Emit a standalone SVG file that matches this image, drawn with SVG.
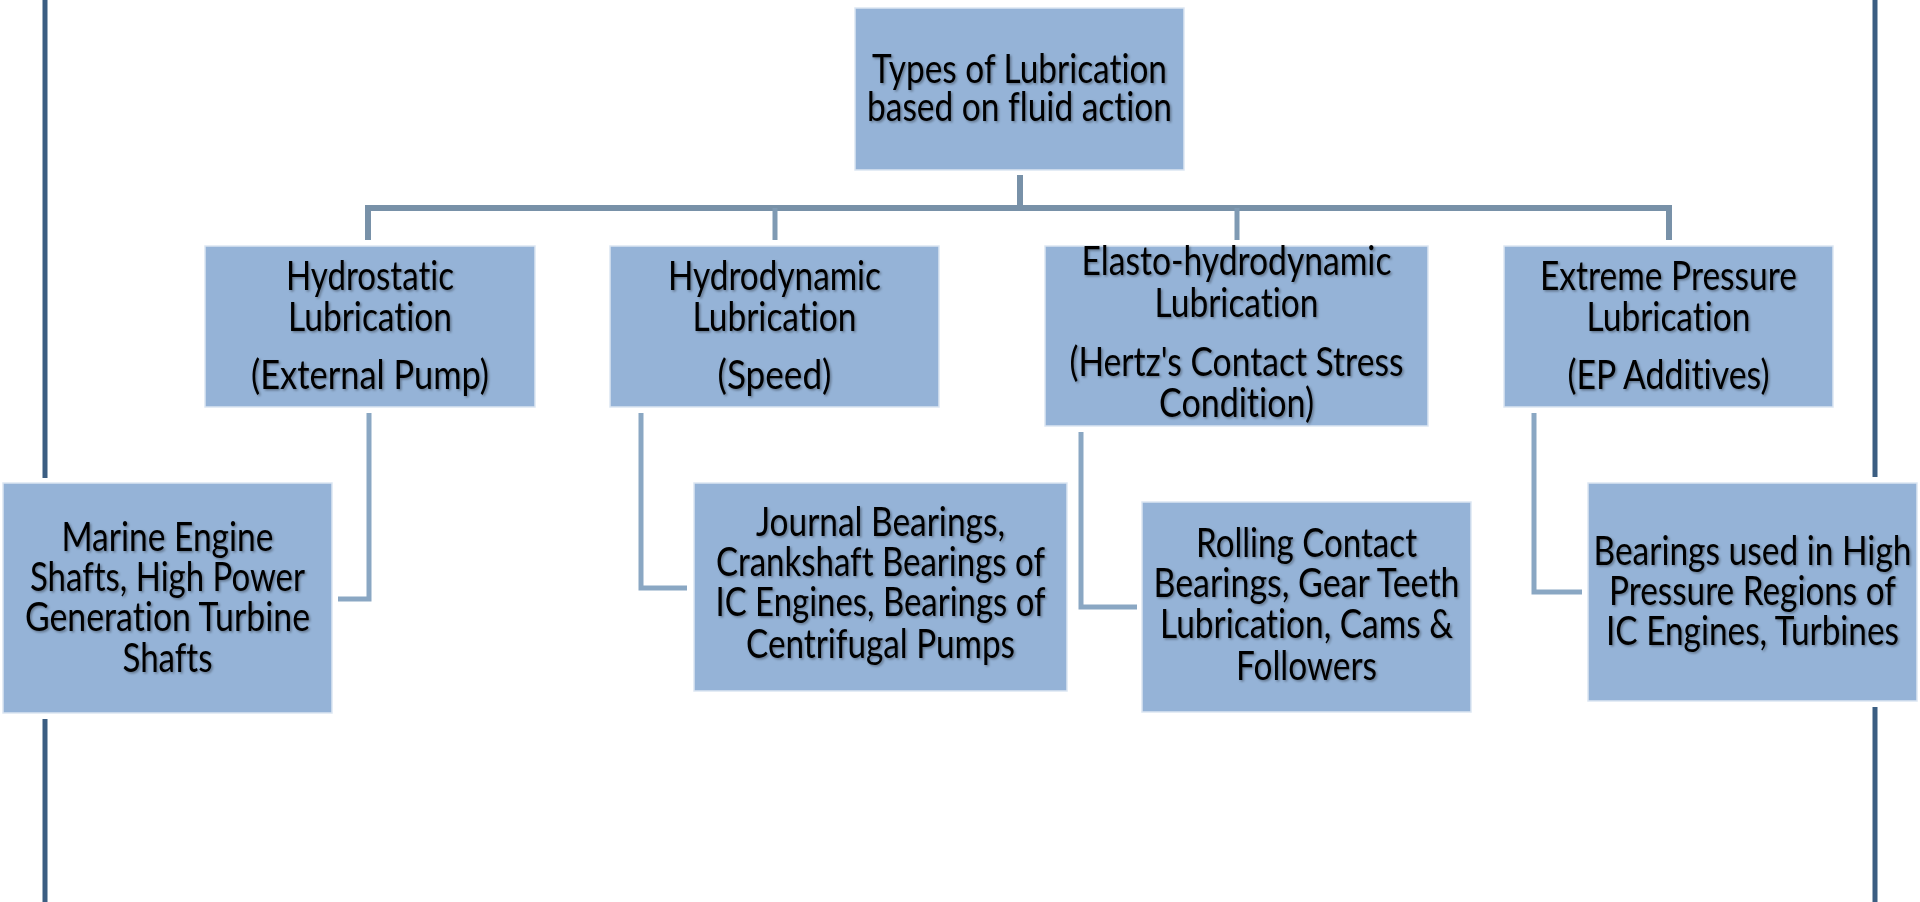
<svg xmlns="http://www.w3.org/2000/svg" width="1920" height="902" viewBox="0 0 1920 902">
  <defs>
    <filter id="txtShadow" x="-5%" y="-20%" width="110%" height="150%">
      <feDropShadow dx="1.5" dy="1.5" stdDeviation="1" flood-color="#000" flood-opacity="0.35"/>
    </filter>
  </defs>
  <style>
    .box { fill: #95b3d7; stroke: #dce6f2; stroke-width: 1.5; }
    .lbl { font-family: Lato, "Liberation Sans", sans-serif; font-size: 40px; fill: #000; text-anchor: middle; font-variant-ligatures: none; filter: url(#txtShadow); }
    .trunk { fill: none; stroke: #7891a8; stroke-width: 6; stroke-linejoin: miter; }
    .drop { fill: none; stroke: #7f9ab3; stroke-width: 5; }
    .elbow { fill: none; stroke: #8aa7c3; stroke-width: 5; stroke-linejoin: miter; }
    .edge { fill: none; stroke: #3b5e82; stroke-width: 5; }
  </style>

  <rect width="1920" height="902" fill="#ffffff"/>

  <!-- page border rules -->
  <g id="border-rules">
    <line class="edge" x1="45" y1="0" x2="45" y2="478"/>
    <line class="edge" x1="45" y1="719" x2="45" y2="902"/>
    <line class="edge" x1="1875" y1="0" x2="1875" y2="477"/>
    <line class="edge" x1="1875" y1="707" x2="1875" y2="902"/>
  </g>

  <!-- connectors -->
  <g id="connectors">
    <line class="trunk" x1="1020" y1="175" x2="1020" y2="208"/>
    <path class="trunk" d="M368,240 V208 H1669 V240"/>
    <line class="drop" x1="775" y1="208" x2="775" y2="240"/>
    <line class="drop" x1="1237" y1="208" x2="1237" y2="240"/>
    <path class="elbow" d="M369,413 V599 H338"/>
    <path class="elbow" d="M641,413 V588 H687"/>
    <path class="elbow" d="M1081,432 V607 H1137"/>
    <path class="elbow" d="M1534,413 V592 H1582"/>
  </g>

  <g id="root">
    <rect class="box" x="855" y="8" width="329" height="162"/>
    <text class="lbl" x="1019.5" y="83" textLength="295" lengthAdjust="spacingAndGlyphs">Types of Lubrication</text>
    <text class="lbl" x="1019.5" y="121" textLength="305" lengthAdjust="spacingAndGlyphs">based on fluid action</text>
  </g>

  <g id="hydrostatic">
    <rect class="box" x="205" y="246" width="330" height="161"/>
    <text class="lbl" x="370" y="290" textLength="168" lengthAdjust="spacingAndGlyphs">Hydrostatic</text>
    <text class="lbl" x="370" y="331" textLength="164" lengthAdjust="spacingAndGlyphs">Lubrication</text>
    <text class="lbl" x="370" y="389" textLength="238" lengthAdjust="spacingAndGlyphs">(External Pump)</text>
  </g>

  <g id="hydrodynamic">
    <rect class="box" x="610" y="246" width="329" height="161"/>
    <text class="lbl" x="774.5" y="290" textLength="213" lengthAdjust="spacingAndGlyphs">Hydrodynamic</text>
    <text class="lbl" x="774.5" y="331" textLength="164" lengthAdjust="spacingAndGlyphs">Lubrication</text>
    <text class="lbl" x="774.5" y="389" textLength="114" lengthAdjust="spacingAndGlyphs">(Speed)</text>
  </g>

  <g id="elastohydrodynamic">
    <rect class="box" x="1045" y="246" width="383" height="180"/>
    <text class="lbl" x="1236.5" y="275" textLength="310" lengthAdjust="spacingAndGlyphs">Elasto-hydrodynamic</text>
    <text class="lbl" x="1236.5" y="317" textLength="164" lengthAdjust="spacingAndGlyphs">Lubrication</text>
    <text class="lbl" x="1236.5" y="376" textLength="334" lengthAdjust="spacingAndGlyphs">(Hertz's Contact Stress</text>
    <text class="lbl" x="1236.5" y="417" textLength="155" lengthAdjust="spacingAndGlyphs">Condition)</text>
  </g>

  <g id="extreme-pressure">
    <rect class="box" x="1504" y="246" width="329" height="161"/>
    <text class="lbl" x="1668.5" y="290" textLength="257" lengthAdjust="spacingAndGlyphs">Extreme Pressure</text>
    <text class="lbl" x="1668.5" y="331" textLength="164" lengthAdjust="spacingAndGlyphs">Lubrication</text>
    <text class="lbl" x="1668.5" y="389" textLength="202" lengthAdjust="spacingAndGlyphs">(EP Additives)</text>
  </g>

  <g id="marine-shafts">
    <rect class="box" x="3" y="483" width="329" height="230"/>
    <text class="lbl" x="167.5" y="551" textLength="212" lengthAdjust="spacingAndGlyphs">Marine Engine</text>
    <text class="lbl" x="167.5" y="591" textLength="275" lengthAdjust="spacingAndGlyphs">Shafts, High Power</text>
    <text class="lbl" x="167.5" y="631" textLength="285" lengthAdjust="spacingAndGlyphs">Generation Turbine</text>
    <text class="lbl" x="167.5" y="672" textLength="90" lengthAdjust="spacingAndGlyphs">Shafts</text>
  </g>

  <g id="journal-bearings">
    <rect class="box" x="694" y="483" width="373" height="208"/>
    <text class="lbl" x="880.5" y="536" textLength="249" lengthAdjust="spacingAndGlyphs">Journal Bearings,</text>
    <text class="lbl" x="880.5" y="576" textLength="329" lengthAdjust="spacingAndGlyphs">Crankshaft Bearings of</text>
    <text class="lbl" x="880.5" y="616" textLength="330" lengthAdjust="spacingAndGlyphs">IC Engines, Bearings of</text>
    <text class="lbl" x="880.5" y="658" textLength="269" lengthAdjust="spacingAndGlyphs">Centrifugal Pumps</text>
  </g>

  <g id="rolling-contact">
    <rect class="box" x="1142" y="502" width="329" height="210"/>
    <text class="lbl" x="1306.5" y="557" textLength="221" lengthAdjust="spacingAndGlyphs">Rolling Contact</text>
    <text class="lbl" x="1306.5" y="597" textLength="306" lengthAdjust="spacingAndGlyphs">Bearings, Gear Teeth</text>
    <text class="lbl" x="1306.5" y="638" textLength="293" lengthAdjust="spacingAndGlyphs">Lubrication, Cams &amp;</text>
    <text class="lbl" x="1306.5" y="680" textLength="141" lengthAdjust="spacingAndGlyphs">Followers</text>
  </g>

  <g id="high-pressure-bearings">
    <rect class="box" x="1588" y="483" width="329" height="218"/>
    <text class="lbl" x="1752.5" y="565" textLength="318" lengthAdjust="spacingAndGlyphs">Bearings used in High</text>
    <text class="lbl" x="1752.5" y="605" textLength="287" lengthAdjust="spacingAndGlyphs">Pressure Regions of</text>
    <text class="lbl" x="1752.5" y="645" textLength="293" lengthAdjust="spacingAndGlyphs">IC Engines, Turbines</text>
  </g>
</svg>
